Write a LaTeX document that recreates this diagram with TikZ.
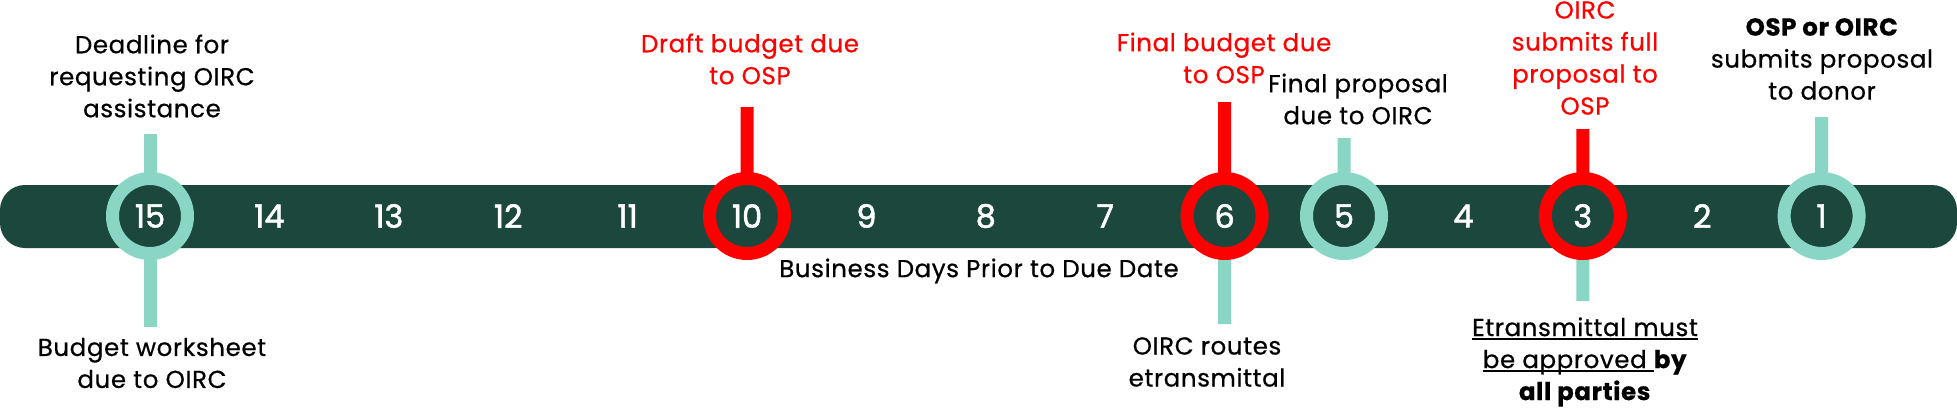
\documentclass[tikz,border=0pt]{standalone}
\usepackage{fontspec}
\setmainfont{Poppins}[LetterSpace=2.5,FakeBold=0.6]
\newfontfamily\numfont{Poppins}[FakeBold=1.6]
\definecolor{barcol}{RGB}{27,71,61}
\definecolor{mint}{RGB}{138,214,197}
\definecolor{hot}{RGB}{255,0,0}
\newcommand\myul[1]{\setbox0\hbox{#1}\rlap{\rule[-3.5pt]{\wd0}{1.8pt}}\box0}
\begin{document}
\begin{tikzpicture}[x=1pt,y=-1pt,
  lbl/.style={align=center,inner sep=0pt,font=\fontsize{24.5}{32}\selectfont},
  num/.style={text=white,inner sep=0pt,font=\numfont\fontsize{32}{32}\selectfont},
  ring/.style={circle,draw=#1,line width=13pt,minimum size=75pt,fill=barcol,inner sep=0pt,text=white,font=\numfont\fontsize{32}{32}\selectfont},
  stem/.style={draw=#1,line width=13pt}]
\useasboundingbox (0,0) rectangle (1957,407);
\fill[barcol,rounded corners=25pt] (0,185) rectangle (1957,248);
% centres
\foreach \n in {1,...,15} {\coordinate (c\n) at ({150+(15-\n)*119.4},216);}
% stem tips
\coordinate (t15) at (150,134);
\coordinate (b15) at (150,327);
\coordinate (t10) at (747,107);
\coordinate (t6) at (1224.6,102);
\coordinate (b6) at (1224.6,324);
\coordinate (t5) at (1344,138);
\coordinate (t3) at (1582.8,129);
\coordinate (b3) at (1582.8,301);
\coordinate (t1) at (1821.6,117);
\draw[stem=mint] (t15) -- (c15);
\draw[stem=mint] (b15) -- (c15);
\draw[stem=hot] (t10) -- (c10);
\draw[stem=hot] (t6) -- (c6);
\draw[stem=mint] (b6) -- (c6);
\draw[stem=mint] (t5) -- (c5);
\draw[stem=hot] (t3) -- (c3);
\draw[stem=mint] (b3) -- (c3);
\draw[stem=mint] (t1) -- (c1);
% rings
\node[ring=mint] (r15) at (c15) {15};
\node[ring=hot] (r10) at (c10) {10};
\node[ring=hot] (r6) at (c6) {6};
\node[ring=mint] (r5) at (c5) {5};
\node[ring=hot] (r3) at (c3) {3};
\node[ring=mint] (r1) at (c1) {1};
% plain numbers
\foreach \n in {14,13,12,11,9,8,7,4,2} {\node[num] (d\n) at (c\n) {\n};}
% labels
\node[lbl] (l15a) at (152,76) {Deadline for\\requesting OIRC\\assistance};
\node[lbl] (l15b) at (152,363) {Budget worksheet\\due to OIRC};
\node[lbl,text=hot] (l10) at (750,59) {Draft budget due\\to OSP};
\node[lbl,text=hot] (l6) at (1224,58) {Final budget due\\to OSP};
\node[lbl] (l5) at (1358,99) {Final proposal\\due to OIRC};
\node[lbl,text=hot] (l3) at (1585,58) {OIRC\\submits full\\proposal to\\OSP};
\node[lbl] (l1) at (1822,59) {\textbf{OSP or OIRC}\\submits proposal\\to donor};
\node[lbl] (l6b) at (1207,362) {OIRC routes\\etransmittal};
\node[lbl] (l3b) at (1585,362) {\myul{Etransmittal must}\\\myul{be approved\ }\textbf{by}\\\textbf{all parties}};
\node[lbl] (axis) at (979,271) {Business Days Prior to Due Date};
\end{tikzpicture}
\end{document}
